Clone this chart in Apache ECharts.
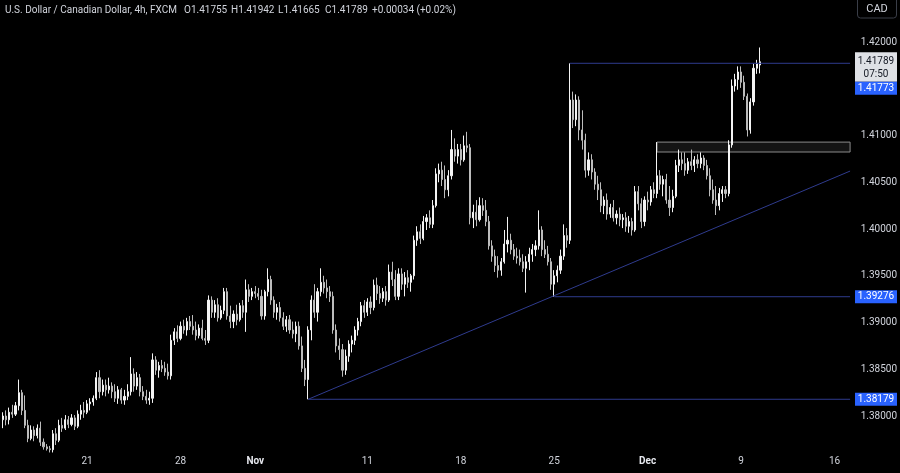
<!DOCTYPE html>
<html><head><meta charset="utf-8">
<script src="https://cdn.jsdelivr.net/npm/echarts/dist/echarts.min.js"></script>
<style>html,body{margin:0;padding:0;background:#000;}#c{width:900px;height:473px;}</style>
</head><body><div id="c"></div>
<script>
const titleText = 'U.S. Dollar / Canadian Dollar, 4h, FXCM';
const ohlcTexts = ['O1.41755', 'H1.41942', 'L1.41665', 'C1.41789', '+0.00034 (+0.02%)'];
const currencyText = 'CAD';
const countdownText = '07:50';

const open = [1.3796,1.3800,1.3796,1.3804,1.3802,1.3811,1.3825,1.3806,1.3790,1.3776,
1.3785,1.3779,1.3787,1.3772,1.3767,1.3765,1.3764,1.3781,1.3774,1.3790,
1.3787,1.3796,1.3791,1.3798,1.3789,1.3802,1.3806,1.3804,1.3813,1.3815,
1.3819,1.3841,1.3826,1.3833,1.3828,1.3832,1.3826,1.3819,1.3828,1.3817,
1.3821,1.3826,1.3845,1.3832,1.3841,1.3826,1.3821,1.3817,1.3819,1.3860,
1.3849,1.3854,1.3851,1.3847,1.3843,1.3881,1.3890,1.3883,1.3896,1.3892,
1.3901,1.3896,1.3892,1.3886,1.3894,1.3883,1.3881,1.3924,1.3911,1.3919,
1.3905,1.3913,1.3933,1.3907,1.3901,1.3909,1.3903,1.3918,1.3911,1.3935,
1.3928,1.3933,1.3931,1.3928,1.3907,1.3933,1.3946,1.3924,1.3911,1.3916,
1.3905,1.3896,1.3903,1.3892,1.3888,1.3896,1.3875,1.3851,1.3839,1.3892,
1.3924,1.3911,1.3933,1.3943,1.3937,1.3933,1.3928,1.3892,1.3875,1.3871,
1.3849,1.3864,1.3877,1.3881,1.3892,1.3901,1.3918,1.3911,1.3922,1.3916,
1.3940,1.3931,1.3926,1.3933,1.3924,1.3954,1.3946,1.3928,1.3952,1.3941,
1.3948,1.3943,1.3950,1.3988,1.3997,1.3990,1.4008,1.4012,1.4005,1.4025,
1.4059,1.4063,1.4053,1.4042,1.4057,1.4085,1.4078,1.4085,1.4074,1.4089,
1.4087,1.4012,1.4018,1.4010,1.4025,1.4020,1.4008,1.3982,1.3971,1.3961,
1.3956,1.3965,1.3984,1.3988,1.3978,1.3971,1.3969,1.3965,1.3958,1.3965,
1.3973,1.3978,1.3982,1.3999,1.3978,1.3973,1.3965,1.3941,1.3950,1.3956,
1.3971,1.3993,1.3988,1.4138,1.4117,1.4138,1.4106,1.4095,1.4063,1.4074,
1.4061,1.4048,1.4042,1.4025,1.4031,1.4016,1.4023,1.4012,1.4016,1.4010,
1.4012,1.4003,1.4008,1.3999,1.4040,1.4027,1.4008,1.4031,1.4029,1.4042,
1.4038,1.4057,1.4048,1.4053,1.4031,1.4023,1.4035,1.4068,1.4074,1.4070,
1.4063,1.4072,1.4068,1.4074,1.4070,1.4076,1.4068,1.4057,1.4042,1.4031,
1.4025,1.4038,1.4042,1.4038,1.4090,1.4153,1.4160,1.4168,1.4157,1.4142,
1.4106,1.4136,1.4172,1.41755];

const close = [1.3800,1.3796,1.3804,1.3802,1.3811,1.3825,1.3806,1.3790,1.3776,1.3785,
1.3779,1.3787,1.3772,1.3767,1.3765,1.3764,1.3781,1.3774,1.3790,1.3787,
1.3796,1.3791,1.3798,1.3789,1.3802,1.3806,1.3804,1.3813,1.3815,1.3819,
1.3841,1.3826,1.3833,1.3828,1.3832,1.3826,1.3819,1.3828,1.3817,1.3821,
1.3826,1.3845,1.3832,1.3841,1.3826,1.3821,1.3817,1.3819,1.3860,1.3849,
1.3854,1.3851,1.3847,1.3843,1.3881,1.3890,1.3883,1.3896,1.3892,1.3901,
1.3896,1.3892,1.3886,1.3894,1.3883,1.3881,1.3924,1.3911,1.3919,1.3905,
1.3913,1.3933,1.3907,1.3901,1.3909,1.3903,1.3918,1.3911,1.3935,1.3928,
1.3933,1.3931,1.3928,1.3907,1.3933,1.3946,1.3924,1.3911,1.3916,1.3905,
1.3896,1.3903,1.3892,1.3888,1.3896,1.3875,1.3851,1.3839,1.3892,1.3924,
1.3911,1.3933,1.3943,1.3937,1.3933,1.3928,1.3892,1.3875,1.3871,1.3849,
1.3864,1.3877,1.3881,1.3892,1.3901,1.3918,1.3911,1.3922,1.3916,1.3940,
1.3931,1.3926,1.3933,1.3924,1.3954,1.3946,1.3928,1.3952,1.3941,1.3948,
1.3943,1.3950,1.3988,1.3997,1.3990,1.4008,1.4012,1.4005,1.4025,1.4059,
1.4063,1.4053,1.4042,1.4057,1.4085,1.4078,1.4085,1.4074,1.4089,1.4087,
1.4012,1.4018,1.4010,1.4025,1.4020,1.4008,1.3982,1.3971,1.3961,1.3956,
1.3965,1.3984,1.3988,1.3978,1.3971,1.3969,1.3965,1.3958,1.3965,1.3973,
1.3978,1.3982,1.3999,1.3978,1.3973,1.3965,1.3941,1.3950,1.3956,1.3971,
1.3993,1.3988,1.4138,1.4117,1.4138,1.4106,1.4095,1.4063,1.4074,1.4061,
1.4048,1.4042,1.4025,1.4031,1.4016,1.4023,1.4012,1.4016,1.4010,1.4012,
1.4003,1.4008,1.3999,1.4040,1.4027,1.4008,1.4031,1.4029,1.4042,1.4038,
1.4057,1.4048,1.4053,1.4031,1.4023,1.4035,1.4068,1.4074,1.4070,1.4063,
1.4072,1.4068,1.4074,1.4070,1.4076,1.4068,1.4057,1.4042,1.4031,1.4025,
1.4038,1.4042,1.4038,1.4090,1.4153,1.4160,1.4168,1.4157,1.4142,1.4106,
1.4136,1.4172,1.4177,1.41789];

const high = [1.3804,1.3806,1.3809,1.3812,1.3815,1.3839,1.3828,1.3822,1.3796,1.3790,
1.3789,1.3791,1.3794,1.3776,1.3770,1.3768,1.3785,1.3787,1.3796,1.3798,
1.3801,1.3800,1.3802,1.3801,1.3806,1.3812,1.3815,1.3817,1.3819,1.3822,
1.3847,1.3849,1.3839,1.3839,1.3841,1.3836,1.3834,1.3832,1.3830,1.3828,
1.3834,1.3863,1.3851,1.3847,1.3845,1.3832,1.3828,1.3826,1.3867,1.3864,
1.3858,1.3860,1.3858,1.3856,1.3887,1.3894,1.3897,1.3901,1.3903,1.3905,
1.3907,1.3908,1.3901,1.3898,1.3903,1.3892,1.3929,1.3928,1.3924,1.3926,
1.3918,1.3937,1.3937,1.3918,1.3913,1.3919,1.3921,1.3924,1.3946,1.3941,
1.3937,1.3939,1.3937,1.3935,1.3935,1.3958,1.3950,1.3928,1.3920,1.3922,
1.3911,1.3907,1.3908,1.3901,1.3901,1.3901,1.3885,1.3860,1.3896,1.3929,
1.3941,1.3937,1.3958,1.3950,1.3946,1.3939,1.3933,1.3898,1.3883,1.3877,
1.3871,1.3881,1.3886,1.3896,1.3905,1.3922,1.3924,1.3926,1.3928,1.3946,
1.3948,1.3939,1.3937,1.3939,1.3962,1.3965,1.3956,1.3958,1.3958,1.3954,
1.3956,1.3952,1.3993,1.4003,1.4005,1.4014,1.4016,1.4020,1.4031,1.4065,
1.4070,1.4072,1.4068,1.4063,1.4106,1.4097,1.4091,1.4091,1.4100,1.4104,
1.4091,1.4026,1.4031,1.4034,1.4033,1.4031,1.4014,1.3988,1.3978,1.3971,
1.3969,1.3999,1.4013,1.3995,1.3984,1.3980,1.3978,1.3973,1.3971,1.3980,
1.3984,1.3988,1.4020,1.4003,1.3988,1.3982,1.3969,1.3956,1.3961,1.3978,
1.4005,1.4001,1.41773,1.4147,1.4144,1.4142,1.4127,1.4102,1.4082,1.4080,
1.4065,1.4057,1.4050,1.4035,1.4038,1.4027,1.4031,1.4020,1.4023,1.4016,
1.4018,1.4014,1.4012,1.4046,1.4046,1.4033,1.4035,1.4040,1.4046,1.4050,
1.4093,1.4063,1.4057,1.4059,1.4046,1.4042,1.4074,1.4085,1.4082,1.4082,
1.4076,1.4085,1.4078,1.4080,1.4082,1.4079,1.4074,1.4065,1.4053,1.4046,
1.4044,1.4046,1.4046,1.4095,1.4160,1.4166,1.4174,1.4174,1.4164,1.4145,
1.4140,1.4177,1.4181,1.41942];

const low = [1.3787,1.3790,1.3791,1.3798,1.3800,1.3806,1.3801,1.3787,1.3772,1.3774,
1.3773,1.3776,1.3768,1.3764,1.3763,1.3761,1.3761,1.3769,1.3772,1.3783,
1.3785,1.3787,1.3789,1.3785,1.3787,1.3796,1.3798,1.3802,1.3806,1.3811,
1.3817,1.3819,1.3822,1.3821,1.3824,1.3819,1.3815,1.3813,1.3813,1.3812,
1.3817,1.3822,1.3826,1.3828,1.3821,1.3817,1.3813,1.3812,1.3814,1.3844,
1.3841,1.3847,1.3843,1.3839,1.3839,1.3876,1.3879,1.3881,1.3888,1.3886,
1.3892,1.3887,1.3881,1.3883,1.3881,1.3876,1.3878,1.3905,1.3905,1.3901,
1.3903,1.3909,1.3903,1.3894,1.3894,1.3897,1.3901,1.3905,1.3890,1.3922,
1.3924,1.3926,1.3924,1.3903,1.3903,1.3928,1.3919,1.3905,1.3903,1.3901,
1.3892,1.3890,1.3888,1.3883,1.3879,1.3871,1.3847,1.3832,1.38179,1.3881,
1.3905,1.3901,1.3928,1.3931,1.3926,1.3922,1.3888,1.3868,1.3860,1.3842,
1.3844,1.3858,1.3868,1.3876,1.3886,1.3896,1.3905,1.3907,1.3909,1.3913,
1.3924,1.3920,1.3922,1.3918,1.3922,1.3939,1.3924,1.3924,1.3935,1.3928,
1.3937,1.3933,1.3946,1.3982,1.3984,1.3988,1.3999,1.4001,1.4001,1.4023,
1.4050,1.4046,1.4033,1.4035,1.4053,1.4072,1.4070,1.4068,1.4072,1.4082,
1.4005,1.4001,1.4003,1.4008,1.4014,1.4003,1.3978,1.3965,1.3954,1.3948,
1.3950,1.3963,1.3975,1.3973,1.3967,1.3963,1.3961,1.3954,1.3932,1.3956,
1.3965,1.3971,1.3978,1.3971,1.3969,1.3961,1.3935,1.39276,1.3943,1.3952,
1.3967,1.3980,1.3984,1.4108,1.4110,1.4095,1.4085,1.4055,1.4057,1.4053,
1.4042,1.4031,1.4018,1.4016,1.4010,1.4012,1.4008,1.4005,1.4003,1.4001,
1.3997,1.3996,1.3993,1.3997,1.4020,1.4001,1.4003,1.4020,1.4025,1.4033,
1.4033,1.4042,1.4035,1.4027,1.4014,1.4018,1.4033,1.4061,1.4063,1.4057,
1.4059,1.4063,1.4061,1.4065,1.4065,1.4063,1.4053,1.4035,1.4027,1.4015,
1.4020,1.4029,1.4033,1.4035,1.4087,1.4147,1.4149,1.4151,1.4138,1.4099,
1.4102,1.4132,1.4166,1.41665];

// Horizontal levels (start at the bar whose high/low made them)
const levelHigh = 1.41773;
const levelLows = [1.39276, 1.38179];
// Supply/demand zone and trendline
const zoneTop = 1.4093, zoneBottom = 1.40824;
const trendEndPrice = 1.4062;
const lastPrice = 1.41789;

// Axis tick labels
const yTickLabels = [1.380, 1.385, 1.390, 1.395, 1.400, 1.405, 1.410, 1.415, 1.420];
const xTickLabels = [['2024-10-21','21'],['2024-10-28','28'],['2024-11-01','Nov'],['2024-11-11','11'],
  ['2024-11-18','18'],['2024-11-25','25'],['2024-12-02','Dec'],['2024-12-09','9'],['2024-12-16','16']];

// 4h trading bars (weekdays only), incl. empty future space
const START = Date.UTC(2024, 9, 14, 12);
const N_CATS = 273;
const categories = [];
for (let t = START; categories.length < N_CATS; t += 4 * 3600 * 1000) {
  const d = new Date(t);
  const wd = d.getUTCDay();
  if (wd !== 0 && wd !== 6) categories.push(d.toISOString().slice(0, 10) + ' ' + String(d.getUTCHours()).padStart(2, '0') + ':00');
}
const labelMap = {};
xTickLabels.forEach(([d, s]) => { labelMap[d + ' 00:00'] = s; });

const FONT = 'Roboto, "Liberation Sans", Arial, sans-serif';
const TXT = '#d1d4dc';
const LINE = '#2f3b8e';
const BLUE = '#2962ff';

const candles = open.map((o, i) => [o, close[i], low[i], high[i]]);
const lastIdx = N_CATS - 1;
const iHigh = high.indexOf(levelHigh);
const iLow1 = low.indexOf(levelLows[0]);
const iLow2 = low.indexOf(levelLows[1]);
const iZone = high.indexOf(zoneTop);

function drawnLine(p0, p1) {
  return {
    type: 'line', data: [p0, p1], symbol: 'none', silent: true, z: 3,
    lineStyle: { color: LINE, width: 1, type: 'solid' }, itemStyle: { color: LINE },
    emphasis: { disabled: true }, tooltip: { show: false }
  };
}

const chart = echarts.init(document.getElementById('c'), null, { renderer: 'canvas' });
chart.setOption({
  backgroundColor: '#000000',
  animation: false,
  grid: { left: 0, top: 0, width: 853, height: 453.4, containLabel: false },
  xAxis: {
    type: 'category', data: categories, boundaryGap: true,
    axisLine: { show: false }, axisTick: { show: false }, splitLine: { show: false },
    axisLabel: {
      interval: 0, margin: 3, color: TXT, fontSize: 10, fontFamily: FONT,
      formatter: v => { const s = labelMap[v]; if (!s) return ''; return /[A-Za-z]/.test(s) ? '{m|' + s + '}' : s; },
      rich: { m: { fontWeight: 'bold', color: '#e6e8ee', fontSize: 10, fontFamily: FONT } }
    }
  },
  yAxis: {
    type: 'value', position: 'right', min: 1.376, max: 1.4245, interval: 0.001, scale: true,
    axisLine: { show: false }, axisTick: { show: false }, splitLine: { show: false },
    axisLabel: {
      margin: 9, color: TXT, fontSize: 10, fontFamily: FONT,
      formatter: v => yTickLabels.some(t => Math.abs(t - v) < 1e-7) ? v.toFixed(5) : ''
    }
  },
  series: [{
    type: 'candlestick', data: candles, barWidth: 1.6, z: 2,
    itemStyle: { color: '#f4f4f4', color0: '#bcbcbc', borderColor: '#f4f4f4', borderColor0: '#bcbcbc', borderWidth: 1 },
    markArea: {
      silent: true, animation: false,
      itemStyle: { color: 'rgba(255,255,255,0.08)', borderColor: '#8a8a8a', borderWidth: 1 },
      data: [[{ coord: [iZone, zoneTop] }, { coord: [lastIdx, zoneBottom] }]]
    }
  },
  drawnLine([iHigh, levelHigh], [lastIdx, levelHigh]),
  drawnLine([iLow1, levelLows[0]], [lastIdx, levelLows[0]]),
  drawnLine([iLow2, levelLows[1]], [lastIdx, levelLows[1]]),
  drawnLine([iLow2, levelLows[1]], [lastIdx, trendEndPrice])
  ]
});

const yPix = v => chart.convertToPixel({ yAxisIndex: 0 }, v);
function txt(x, y, s, color, size, align, weight) {
  return { type: 'text', z: 101, style: { text: s, x: x, y: y, fill: color, font: (weight || 'normal') + ' ' + size + 'px ' + FONT,
    textAlign: align || 'left', textVerticalAlign: 'middle', align: align || 'left', verticalAlign: 'middle' } };
}
function tag(yc, s) {
  return [
    { type: 'rect', z: 100, shape: { x: 855, y: yc - 6.5, width: 42, height: 13 }, style: { fill: BLUE } },
    txt(876, yc, s, '#ffffff', 10, 'center')
  ];
}
const yCur = yPix(lastPrice);
const curTop = yCur - 9.5;
const g = [
  { type: 'rect', z: 100, shape: { x: 855, y: curTop, width: 42, height: 29.5 }, style: { fill: '#dfe1e6' } },
  txt(876, yCur, lastPrice.toFixed(5), '#131722', 10, 'center'),
  txt(876, yCur + 13, countdownText, '#131722', 10, 'center'),
  ...tag(Math.max(yPix(levelHigh), curTop + 29.5 + 6.5), levelHigh.toFixed(5)),
  ...tag(yPix(levelLows[0]), levelLows[0].toFixed(5)),
  ...tag(yPix(levelLows[1]), levelLows[1].toFixed(5)),
  { type: 'rect', z: 100, shape: { x: 857.5, y: -4, width: 39, height: 22, r: 3 }, style: { fill: '#000', stroke: '#3a3e48', lineWidth: 1 } },
  txt(877, 9, currencyText, TXT, 11, 'center'),
  txt(5, 10, titleText, TXT, 10, 'left')
];
const ohlcX = [184, 231, 278, 325, 372];
ohlcTexts.forEach((s, i) => g.push(txt(ohlcX[i], 10, s, TXT, 10, 'left')));
chart.setOption({ graphic: g });
</script>
</body></html>
